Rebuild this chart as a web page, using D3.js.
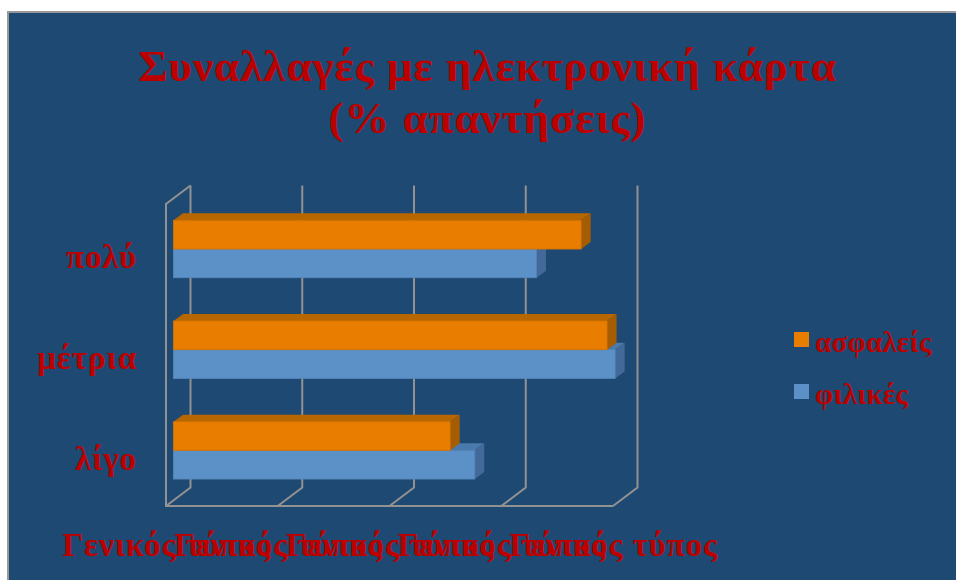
<!DOCTYPE html>
<html lang="el">
<head>
<meta charset="utf-8">
<title>Συναλλαγές με ηλεκτρονική κάρτα</title>
<script src="https://cdn.jsdelivr.net/npm/d3@7/dist/d3.min.js"></script>
<style>
  html, body { margin: 0; padding: 0; background: #fff; overflow: hidden; }
  svg { display: block; }
  text { font-family: "Liberation Serif", serif; font-weight: 700; fill: #BC0000; }
</style>
</head>
<body>
<svg id="chart" width="956" height="580"></svg>
<script>
// Survey answers, percent of responses
const categories = ["πολύ", "μέτρια", "λίγο"];
const seriesNames = ["ασφαλείς", "φιλικές"];
const secureValues = [91.2, 97, 61.9];
const friendlyValues = [81.2, 98.8, 67.4];
const axisTicks = [0, 25, 50, 75, 100];
const tickLabel = "Γενικός τύπος";
const titleLines = ["Συναλλαγές με ηλεκτρονική κάρτα", "(% απαντήσεις)"];

const seriesColors = {
  "ασφαλείς": { front: "#E87D00", top: "#B86600", side: "#A65C00", edge: "#D67300" },
  "φιλικές": { front: "#5C91C7", top: "#4A79AB", side: "#43699A", edge: "#5487BB" }
};
const seriesValues = { "ασφαλείς": secureValues, "φιλικές": friendlyValues };

const svg = d3.select("#chart");

// Slide background with its thin grey frame
svg.append("rect")
  .attr("x", 8).attr("y", 12).attr("width", 960).attr("height", 580)
  .attr("fill", "#1E4972").attr("stroke", "#999").attr("stroke-width", 2);

// Pseudo-3D box: front plane coordinates plus a receding depth offset
const plot = { left: 166, right: 613, top: 204, bottom: 506 };
const depth = { dx: 24.5, dy: -18.5 };
const barInset = { dx: 7.5, dy: -5.3 };   // bars sit part-way into the box
const barDepth = { dx: 9.5, dy: -7 };

const x = d3.scaleLinear().domain([0, 100]).range([plot.left, plot.right]);
const y = d3.scaleBand().domain(categories).range([plot.top, plot.bottom]).paddingInner(0.43).paddingOuter(0.215);
const inner = d3.scaleBand().domain(seriesNames).range([0, y.bandwidth()]);

const gridColor = "#929292";
const grid = svg.append("g").attr("fill", "none").attr("stroke", gridColor).attr("stroke-width", 2);

// Back wall verticals and the floor diagonals running to the front edge
grid.selectAll("path.wall").data(axisTicks).join("path")
  .attr("class", "wall")
  .attr("d", d => {
    const p = d3.path();
    p.moveTo(x(d) + depth.dx, plot.top + depth.dy);
    p.lineTo(x(d) + depth.dx, plot.bottom + depth.dy);
    p.lineTo(x(d), plot.bottom);
    return p.toString();
  });

// Left side wall and floor front edge
const frame = d3.path();
frame.moveTo(x(0) + depth.dx, plot.top + depth.dy);
frame.lineTo(x(0), plot.top);
frame.lineTo(x(0), plot.bottom);
frame.lineTo(x(100), plot.bottom);
grid.append("path").attr("d", frame.toString());

// Bars: the lower series goes first so the upper one overlaps its top face
const barLayer = svg.append("g").attr("transform", `translate(${barInset.dx},${barInset.dy})`);
[...seriesNames].reverse().forEach(name => {
  const colors = seriesColors[name];
  const rows = categories.map((c, i) => ({ c, v: seriesValues[name][i] }));
  const g = barLayer.append("g");
  const box = r => ({ x0: x(0), x1: x(r.v), y0: y(r.c) + inner(name), y1: y(r.c) + inner(name) + inner.bandwidth() });
  const poly = pts => pts.map(p => p.join(",")).join(" ");

  g.selectAll("polygon.top").data(rows).join("polygon").attr("class", "top")
    .attr("fill", colors.top)
    .attr("points", r => {
      const b = box(r);
      return poly([[b.x0, b.y0], [b.x1, b.y0], [b.x1 + barDepth.dx, b.y0 + barDepth.dy], [b.x0 + barDepth.dx, b.y0 + barDepth.dy]]);
    });
  g.selectAll("polygon.side").data(rows).join("polygon").attr("class", "side")
    .attr("fill", colors.side)
    .attr("points", r => {
      const b = box(r);
      return poly([[b.x1, b.y0], [b.x1 + barDepth.dx, b.y0 + barDepth.dy], [b.x1 + barDepth.dx, b.y1 + barDepth.dy], [b.x1, b.y1]]);
    });
  g.selectAll("rect.front").data(rows).join("rect").attr("class", "front")
    .attr("fill", colors.front)
    .attr("stroke", colors.edge).attr("stroke-width", 0.8)
    .attr("x", r => box(r).x0).attr("y", r => box(r).y0)
    .attr("width", r => box(r).x1 - box(r).x0)
    .attr("height", inner.bandwidth());
});

// Value axis labels, each carrying the same unformatted caption
const xAxis = d3.axisBottom(x).tickValues(axisTicks).tickSize(0).tickPadding(0).tickFormat(() => tickLabel);
const xAxisG = svg.append("g").attr("transform", `translate(0,${plot.bottom})`).call(xAxis);
xAxisG.attr("font-family", null).select(".domain").remove();
xAxisG.selectAll("text")
  .attr("y", 0).attr("dy", 0)
  .attr("transform", "translate(0,50)")
  .style("font-size", "33px")
  .style("letter-spacing", "0.9px");

// Category labels
const yAxis = d3.axisLeft(y).tickSize(0).tickPadding(0);
const yAxisG = svg.append("g").attr("transform", "translate(137,0)").call(yAxis);
yAxisG.attr("font-family", null).select(".domain").remove();
yAxisG.selectAll("text")
  .attr("x", 0).attr("dy", 0)
  .attr("transform", "translate(0,14)")
  .style("font-size", "33px")
  .style("letter-spacing", "0.9px");

// Title
svg.selectAll("text.title").data(titleLines).join("text")
  .attr("class", "title")
  .attr("x", 487.5)
  .attr("y", (d, i) => 81 + i * 51.5)
  .attr("text-anchor", "middle")
  .style("font-size", "45px")
  .style("letter-spacing", "1px")
  .text(d => d);

// Legend
const legend = svg.selectAll("g.legend").data(seriesNames).join("g")
  .attr("class", "legend")
  .attr("transform", (d, i) => `translate(794,${332 + i * 52})`);
legend.append("rect").attr("width", 15).attr("height", 15).attr("fill", d => seriesColors[d].front);
legend.append("text")
  .attr("x", 21).attr("y", 20)
  .style("font-size", "29px")
  .style("letter-spacing", "0.3px")
  .text(d => d);
</script>
</body>
</html>
